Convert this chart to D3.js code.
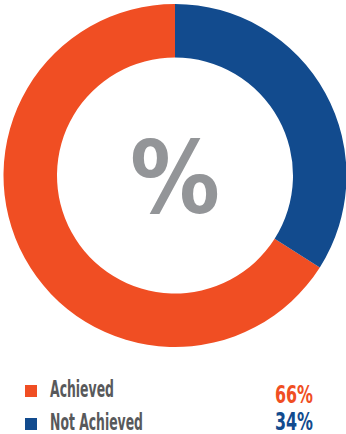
<!DOCTYPE html>
<html lang="en">
<head>
    <meta charset="UTF-8">
    <title>Achieved donut</title>
    <script src="https://d3js.org/d3.v7.min.js"></script>
    <style>
        body { margin: 0; background: #fff; }
        text { font-family: 'Liberation Sans Narrow', 'DejaVu Sans Condensed', 'DejaVu Sans', sans-serif; font-stretch: condensed; }
    </style>
</head>
<body>
    <svg id="chart" width="346" height="434"></svg>
    <script>
        // Data
        const categories = ["Achieved", "Not Achieved"];
        const values = [66, 34];
        const colors = ["#f04e23", "#124b8e"];

        const width = 346, height = 434;
        const cx = 175, cy = 175.5, outerR = 171.5, innerR = 118;

        const svg = d3.select("#chart");

        // Achieved ends at the top, Not Achieved runs clockwise from 12 o'clock
        const total = d3.sum(values);
        const offset = 2 * Math.PI * values[1] / total;
        const pie = d3.pie().sort(null).value(d => d)
            .startAngle(offset).endAngle(offset + 2 * Math.PI);

        const arc = d3.arc().innerRadius(innerR).outerRadius(outerR);

        svg.append("g")
            .attr("transform", `translate(${cx},${cy})`)
            .selectAll("path")
            .data(pie(values))
            .join("path")
            .attr("d", arc)
            .attr("fill", (d, i) => colors[i]);

        // Centre symbol
        svg.append("text")
            .attr("x", 175)
            .attr("y", 213)
            .attr("text-anchor", "middle")
            .attr("textLength", 90)
            .attr("lengthAdjust", "spacingAndGlyphs")
            .attr("fill", "#939598")
            .style("font-size", "100px")
            .style("font-weight", "bold")
            .text("%");

        // Legend
        const rowY = d3.scalePoint().domain(categories).range([397, 430]);
        const valY = d3.scalePoint().domain(categories).range([403, 430]);
        const legend = svg.append("g");
        const textWidths = [64, 93];

        categories.forEach((c, i) => {
            const y = rowY(c);
            legend.append("rect")
                .attr("x", 25).attr("y", y - 12)
                .attr("width", 12).attr("height", 12)
                .attr("fill", colors[i]);
            legend.append("text")
                .attr("x", 50).attr("y", y)
                .attr("textLength", textWidths[i])
                .attr("lengthAdjust", "spacingAndGlyphs")
                .attr("fill", "#58595b")
                .style("font-size", "23px")
                .style("font-weight", "bold")
                .text(c);
            legend.append("text")
                .attr("x", 275).attr("y", valY(c))
                .attr("textLength", 38)
                .attr("lengthAdjust", "spacingAndGlyphs")
                .attr("fill", colors[i])
                .style("font-size", "24px")
                .style("font-weight", "bold")
                .text(values[i] + "%");
        });
    </script>
</body>
</html>
